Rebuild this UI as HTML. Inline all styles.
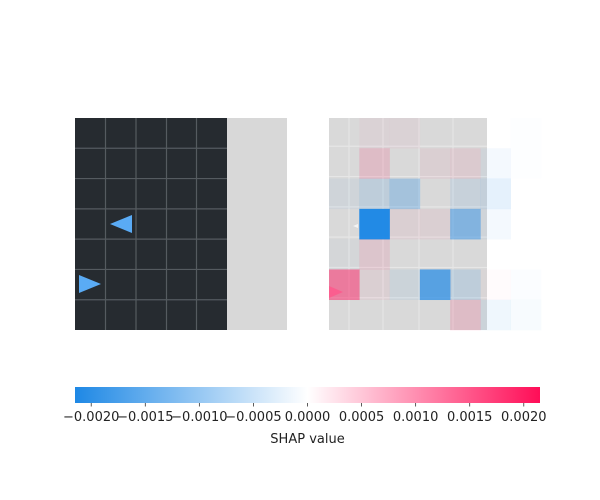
<!DOCTYPE html>
<html><head><meta charset="utf-8"><style>
html,body{margin:0;padding:0;background:#fff;}
svg{display:block;font-family:"DejaVu Sans","Liberation Sans",sans-serif;}
</style></head><body>
<svg id="chart" width="600" height="500" viewBox="0 0 600 500" xmlns="http://www.w3.org/2000/svg">
<defs>
<linearGradient id="cbar" x1="0" x2="1" y1="0" y2="0">
<stop offset="0" stop-color="#1E88E5"/><stop offset="0.5" stop-color="#ffffff"/><stop offset="1" stop-color="#FF0D57"/>
</linearGradient>
</defs>
<g id="left"></g>
<g id="right"></g>
<g id="cb"></g>
</svg>
<script>
// SHAP values (x1e-3) per cell, rows top->bottom, cols left->right
const row0 = [0, 0.07, 0.07, 0, 0, 0, -0.02];
const row1 = [0, 0.3, 0, 0.1, 0.15, -0.1, -0.02];
const row2 = [-0.1, -0.3, -0.6, 0, -0.2, -0.25, 0];
const row3 = [0, -2.1, 0.1, 0.1, -1.0, -0.1, 0];
const row4 = [-0.05, 0.2, 0, 0, 0, 0, 0];
const row5 = [1.0, 0.1, -0.15, -1.5, -0.3, 0.03, -0.03];
const row6 = [0, 0, 0, 0, 0.3, -0.15, -0.08];
const shapRows = [row0, row1, row2, row3, row4, row5, row6];
const maxVal = 2.15;
const tickValues = [-0.002, -0.0015, -0.001, -0.0005, 0, 0.0005, 0.001, 0.0015, 0.002];
const tickLabels = ["\u22120.0020","\u22120.0015","\u22120.0010","\u22120.0005","0.0000","0.0005","0.0010","0.0015","0.0020"];

const NS = "http://www.w3.org/2000/svg";
function mk(tag, attrs, parent){const e=document.createElementNS(NS,tag);for(const k in attrs)e.setAttribute(k,attrs[k]);parent.appendChild(e);return e;}
const topY=118, bottomY=330, nR=7, rowH=(bottomY-topY)/nR;

// left panel
const L=document.getElementById('left');
let bg=mk('rect',{x:75,y:topY,width:152,height:bottomY-topY,fill:'#262b30'},L);


let gr=mk('rect',{x:227,y:topY,width:60,height:bottomY-topY,fill:'#d8d8d8'},L);


[105.5,136,166.5,196.5].forEach(x=>mk('line',{x1:x,x2:x,y1:topY,y2:bottomY,stroke:'#555b60','stroke-width':1.2},L));
for(let i=1;i<nR;i++){const y=topY+i*rowH;mk('line',{x1:75,x2:227,y1:y,y2:y,stroke:'#555b60','stroke-width':1.2},L);}
let t1=mk('polygon',{points:'110,224 132,215 132,233',fill:'#5aabf5'},L);


let t2=mk('polygon',{points:'79,275 79,293 101,284',fill:'#5aabf5'},L);



// right panel
const R=document.getElementById('right');
let rg=mk('rect',{x:329,y:topY,width:158,height:bottomY-topY,fill:'#d9d9d9'},R);


[349,383,419,453].forEach(x=>mk('line',{x1:x,x2:x,y1:topY,y2:bottomY,stroke:'#e6e6e6','stroke-width':1.2},R));
for(let i=1;i<nR;i++){const y=topY+i*rowH-2;mk('line',{x1:329,x2:487,y1:y,y2:y,stroke:'#e6e6e6','stroke-width':1.2},R);}
mk('polygon',{points:'353,226 358,224 358,228',fill:'#f4f4f4'},R);
mk('polygon',{points:'329,286 329,298 343,292',fill:'#f7a6bf'},R);
const colW=(541-329)/7;
shapRows.forEach((row,r)=>row.forEach((v,c)=>{
  const a=Math.min(1,Math.abs(v)/maxVal);
  const col=v<0?'#1E88E5':'#FF0D57';
  const cell=mk('rect',{x:329+c*colW,y:topY+r*rowH,width:colW+0.3,height:rowH+0.3,fill:col,'fill-opacity':a},R);
  
  
}));

// colorbar
const C=document.getElementById('cb');
const x0=75,x1=540;
function xs(v){return x0+(v+maxVal/1000)/(2*maxVal/1000)*(x1-x0);}
let bar=mk('rect',{x:x0,y:387,width:x1-x0,height:16,fill:'url(#cbar)'},C);


tickValues.forEach((v,i)=>{
  const x=xs(v);
  mk('line',{x1:x,x2:x,y1:403,y2:406.5,stroke:'#333','stroke-width':0.8},C);
  const t=mk('text',{x:x,y:421,'text-anchor':'middle','font-size':13,fill:'#222'},C);
  t.textContent=tickLabels[i];
  
  
});
let ttl=mk('text',{x:307.5,y:443,'text-anchor':'middle','font-size':13,fill:'#222'},C);
ttl.textContent='SHAP value';


</script>
</body></html>
